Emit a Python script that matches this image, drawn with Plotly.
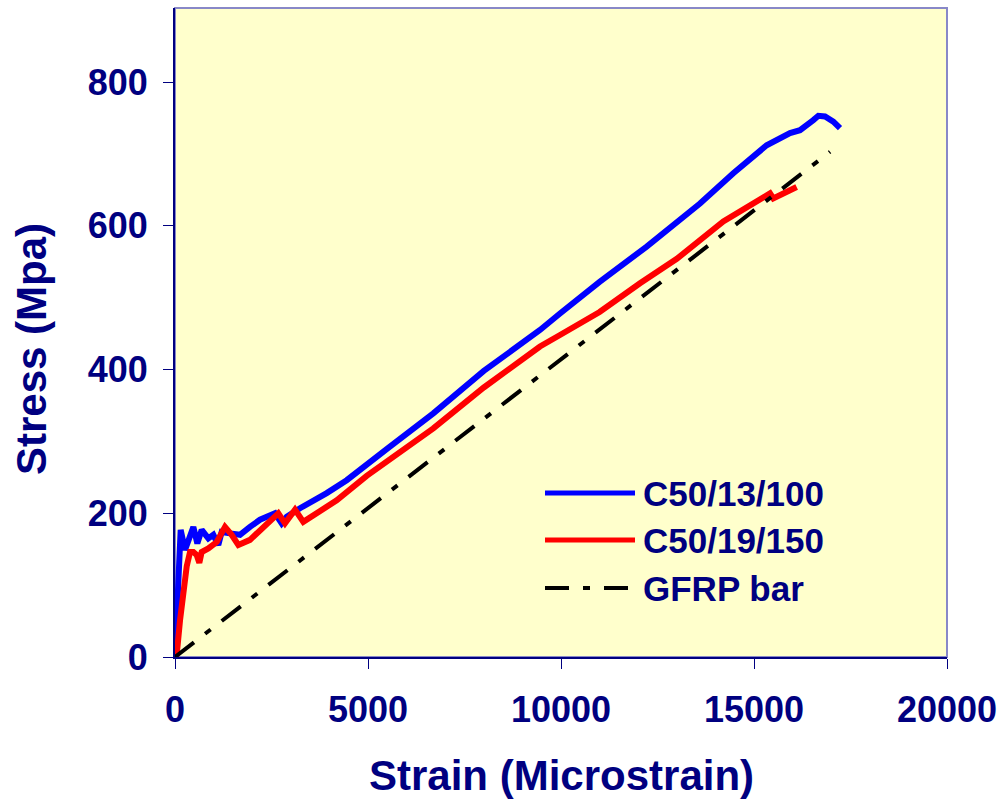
import plotly.graph_objects as go

# ---- data ----
strain_c13 = [0, 44, 86, 147, 259, 475, 579, 691, 864, 993, 1122, 1209, 1425, 1684, 1943,
              2202, 2591, 2764, 2894, 3238, 3930, 4448, 5500, 6692, 8000, 9456, 9974,
              11000, 12220, 13601, 14464, 15328, 15933, 16192, 16537, 16667, 16840, 17055, 17228]
stress_c13 = [0, 51, 130, 177, 149, 181, 158, 177, 165, 170, 156, 174, 172, 170, 181,
              191, 200, 186, 195, 207, 228, 246, 290, 339, 398, 455, 478,
              522, 571, 631, 673, 712, 729, 733, 747, 753, 752, 745, 736]

strain_c19 = [0, 44, 130, 215, 303, 389, 475, 562, 630, 691, 864, 1080, 1295, 1468, 1641,
              1943, 2375, 2677, 2850, 3109, 3324, 3671, 4189, 4966, 6692, 8000, 9456,
              9974, 11000, 12047, 13000, 14205, 15000, 15415, 15500, 15588, 15850, 16105]
stress_c19 = [0, 3, 51, 93, 126, 146, 146, 142, 131, 146, 151, 160, 181, 170, 156,
              163, 186, 200, 186, 205, 188, 200, 218, 252, 318, 375, 432,
              448, 480, 520, 554, 606, 632, 645, 638, 640, 648, 654]

strain_gfrp = [0, 16970]
stress_gfrp = [0, 703]

series_names = ["C50/13/100", "C50/19/150", "GFRP bar"]
x_ticks = [0, 5000, 10000, 15000, 20000]
y_ticks = [0, 200, 400, 600, 800]
x_title = "Strain (Microstrain)"
y_title = "Stress (Mpa)"

NAVY = "#000080"
FONT = "Liberation Sans, Arial, sans-serif"
GDASH = "24px,14px,7px,14px"

fig = go.Figure()
fig.add_trace(go.Scatter(x=strain_c13, y=stress_c13, mode="lines", name=series_names[0],
                         line=dict(color="#0000FF", width=6), showlegend=False))
fig.add_trace(go.Scatter(x=strain_c19, y=stress_c19, mode="lines", name=series_names[1],
                         line=dict(color="#FF0000", width=6), showlegend=False))
fig.add_trace(go.Scatter(x=strain_gfrp, y=stress_gfrp, mode="lines", name=series_names[2],
                         line=dict(color="#000000", width=4, dash=GDASH),
                         showlegend=False))

L, R, T, B = 175, 53, 8, 145
W, H = 1000, 802
pw, ph = W - L - R, H - T - B


def px_x(p):
    return (p - L) / pw


def px_y(p):
    return (H - B - p) / ph


shapes = [
    dict(type="rect", xref="paper", yref="paper", x0=0, y0=0, x1=1, y1=1,
         line=dict(color="#8888C8", width=2), layer="below"),
]
annotations = []
legend_rows = [(493, "#0000FF", "solid", 5), (540, "#FF0000", "solid", 5),
               (588, "#000000", GDASH, 4)]
for (yy, col, dash, w), name in zip(legend_rows, series_names):
    shapes.append(dict(type="line", xref="paper", yref="paper",
                       x0=px_x(545), x1=px_x(635), y0=px_y(yy), y1=px_y(yy),
                       line=dict(color=col, width=w, dash=dash)))
    annotations.append(dict(xref="paper", yref="paper", x=px_x(641), y=px_y(yy),
                            text=name, showarrow=False, xanchor="left", yanchor="middle",
                            font=dict(family=FONT, size=35, color=NAVY, weight="bold")))

# axis titles
annotations.append(dict(xref="paper", yref="paper", x=px_x(561), y=px_y(775),
                        text=x_title, showarrow=False, xanchor="center", yanchor="middle",
                        font=dict(family=FONT, size=42, color=NAVY, weight="bold")))
annotations.append(dict(xref="paper", yref="paper", x=px_x(32), y=px_y(349),
                        text=y_title, showarrow=False, xanchor="center", yanchor="middle",
                        textangle=-90,
                        font=dict(family=FONT, size=42, color=NAVY, weight="bold")))

fig.update_layout(
    width=W, height=H,
    margin=dict(l=L, r=R, t=T, b=B, autoexpand=False),
    paper_bgcolor="#FFFFFF",
    plot_bgcolor="#FFFFCC",
    shapes=shapes,
    annotations=annotations,
    showlegend=False,
    font=dict(family=FONT, color=NAVY),
)
fig.update_xaxes(
    range=[0, 20000], tickvals=x_ticks, ticktext=[str(v) for v in x_ticks],
    showgrid=False, zeroline=False, showline=True, linecolor=NAVY, linewidth=2,
    ticks="outside", ticklen=10, tickwidth=1, tickcolor=NAVY,
    tickfont=dict(family=FONT, size=36, color=NAVY, weight="bold"),
    ticklabelstandoff=10,
    automargin=False,
)
fig.update_yaxes(
    range=[0, 903], tickvals=y_ticks, ticktext=[str(v) for v in y_ticks],
    showgrid=False, zeroline=False, showline=True, linecolor=NAVY, linewidth=2,
    ticks="outside", ticklen=10, tickwidth=1, tickcolor=NAVY,
    tickfont=dict(family=FONT, size=36, color=NAVY, weight="bold"),
    ticklabelstandoff=8,
    automargin=False,
)

fig.write_html("out.html")
